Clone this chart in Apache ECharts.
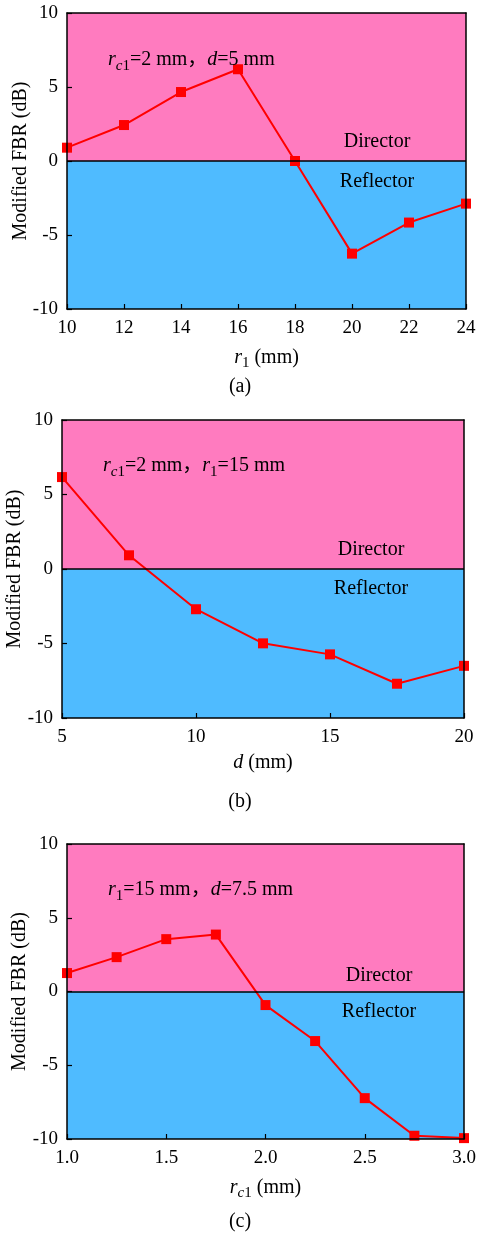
<!DOCTYPE html>
<html><head><meta charset="utf-8">
<script src="https://cdn.jsdelivr.net/npm/echarts@6/dist/echarts.min.js"></script>
<style>html,body{margin:0;padding:0;background:#fff}#c{width:478px;height:1235px}</style>
</head><body><div id="c"></div>
<script>
// ---- data ----
const xA = [10, 12, 14, 16, 18, 20, 22, 24];
const yA = [0.9, 2.43, 4.66, 6.2, 0, -6.26, -4.16, -2.88];
const xB = [5, 7.5, 10, 12.5, 15, 17.5, 20];
const yB = [6.17, 0.92, -2.7, -4.99, -5.73, -7.7, -6.5];
const xC = [1.0, 1.25, 1.5, 1.75, 2.0, 2.25, 2.5, 2.75, 3.0];
const yC = [1.25, 2.33, 3.55, 3.86, -0.92, -3.36, -7.23, -9.78, -9.94];
const yRange = [-10, 10];
const yStep = 5;
const xRanges = [[10, 24, 2], [5, 20, 5], [1.0, 3.0, 0.5]];
const zoneNames = ['Director', 'Reflector'];
const notes = [
  '{i|r}{si|c}{s|1}=2 mm，{i|d}=5 mm',
  '{i|r}{si|c}{s|1}=2 mm，{i|r}{s|1}=15 mm',
  '{i|r}{s|1}=15 mm，{i|d}=7.5 mm'
];
const xNames = ['{i|r}{s|1} (mm)', '{i|d} (mm)', '{i|r}{si|c}{s|1} (mm)'];
const captions = ['(a)', '(b)', '(c)'];

const FONT = "'Liberation Serif','Times New Roman','Noto Sans CJK SC',serif";
const PINK = '#FF7BBF', BLUE = '#4FBBFF', RED = '#FF0000';
const rich = {
  i: {fontFamily: FONT, fontSize: 20, fontStyle: 'italic', color: '#000'},
  s: {fontFamily: FONT, fontSize: 15, color: '#000', padding: [12, 0, 0, 0]},
  si: {fontFamily: FONT, fontSize: 15, fontStyle: 'italic', color: '#000', padding: [12, 0, 0, 0]}
};

const grids = [
  {left: 67, top: 13, width: 399, height: 296, outerBoundsMode: 'none', containLabel: false},
  {left: 62, top: 420, width: 402, height: 298, outerBoundsMode: 'none', containLabel: false},
  {left: 67, top: 844, width: 397, height: 295, outerBoundsMode: 'none', containLabel: false}
];
const noteXY = [[108, 60], [103, 466], [108, 890]];
const zoneXY = [[377, 142, 182], [371, 550, 589], [379, 976, 1012]];
const yNameGap = [36, 37, 37];
const capY = [387, 802, 1222];
const datasets = [[xA, yA], [xB, yB], [xC, yC]];

const axisLine = {show: true, lineStyle: {color: '#000', width: 1.5}};
const xAxis = [], yAxis = [], series = [], graphic = [];
grids.forEach((g, k) => {
  const [mn, mx, step] = xRanges[k];
  xAxis.push({
    type: 'value', gridIndex: k, min: mn, max: mx, interval: step, position: 'bottom', z: 5,
    axisLine: {onZero: false, ...axisLine},
    axisTick: {inside: true, length: 5, lineStyle: {color: '#000', width: 1.2}},
    splitLine: {show: false},
    axisLabel: {color: '#000', fontFamily: FONT, fontSize: 19, margin: 10,
      formatter: v => k === 2 ? v.toFixed(1) : String(v)},
    name: xNames[k], nameLocation: 'middle', nameGap: 35, nameMoveOverlap: false,
    nameTextStyle: {color: '#000', fontFamily: FONT, fontSize: 20, rich: rich}
  });
  xAxis.push({
    type: 'value', gridIndex: k, min: mn, max: mx, position: 'top', z: 5,
    axisLine: {onZero: false, ...axisLine}, axisTick: {show: false},
    axisLabel: {show: false}, splitLine: {show: false}
  });
  yAxis.push({
    type: 'value', gridIndex: k, min: yRange[0], max: yRange[1], interval: yStep, position: 'left', z: 5,
    axisLine: {onZero: false, ...axisLine},
    axisTick: {inside: true, length: 5, lineStyle: {color: '#000', width: 1.2}},
    splitLine: {show: false},
    axisLabel: {color: '#000', fontFamily: FONT, fontSize: 19, margin: 9},
    name: 'Modified FBR (dB)', nameLocation: 'middle', nameGap: yNameGap[k], nameMoveOverlap: false,
    nameTextStyle: {color: '#000', fontFamily: FONT, fontSize: 20}
  });
  yAxis.push({
    type: 'value', gridIndex: k, min: yRange[0], max: yRange[1], position: 'right', z: 5,
    axisLine: {onZero: false, ...axisLine}, axisTick: {show: false},
    axisLabel: {show: false}, splitLine: {show: false}
  });
  const [xs, ys] = datasets[k];
  series.push({
    type: 'line', xAxisIndex: 2 * k, yAxisIndex: 2 * k,
    data: xs.map((x, i) => [x, ys[i]]),
    symbol: 'rect', symbolSize: 10, showSymbol: true,
    lineStyle: {color: RED, width: 2}, itemStyle: {color: RED},
    clip: true, animation: false, z: 3,
    markArea: {silent: true, data: [
      [{yAxis: 0, itemStyle: {color: PINK}}, {yAxis: yRange[1]}],
      [{yAxis: yRange[0], itemStyle: {color: BLUE}}, {yAxis: 0}]
    ]},
    markLine: {silent: true, symbol: 'none', label: {show: false},
      lineStyle: {color: '#000', width: 1.5, type: 'solid'}, data: [{yAxis: 0}]}
  });
  graphic.push({type: 'text', x: noteXY[k][0], y: noteXY[k][1], z: 10,
    style: {text: notes[k], fontFamily: FONT, fontSize: 20, fill: '#000',
      verticalAlign: 'middle', align: 'left', rich: rich}});
  graphic.push({type: 'text', x: zoneXY[k][0], y: zoneXY[k][1], z: 10,
    style: {text: zoneNames[0], fontFamily: FONT, fontSize: 20, fill: '#000', align: 'center', verticalAlign: 'middle'}});
  graphic.push({type: 'text', x: zoneXY[k][0], y: zoneXY[k][2], z: 10,
    style: {text: zoneNames[1], fontFamily: FONT, fontSize: 20, fill: '#000', align: 'center', verticalAlign: 'middle'}});
  graphic.push({type: 'text', x: 240, y: capY[k], z: 10,
    style: {text: captions[k], fontFamily: FONT, fontSize: 20, fill: '#000', align: 'center', verticalAlign: 'middle'}});
});

const chart = echarts.init(document.getElementById('c'), null, {renderer: 'canvas'});
chart.setOption({animation: false, backgroundColor: '#fff', grid: grids, xAxis, yAxis, series, graphic});
</script></body></html>
